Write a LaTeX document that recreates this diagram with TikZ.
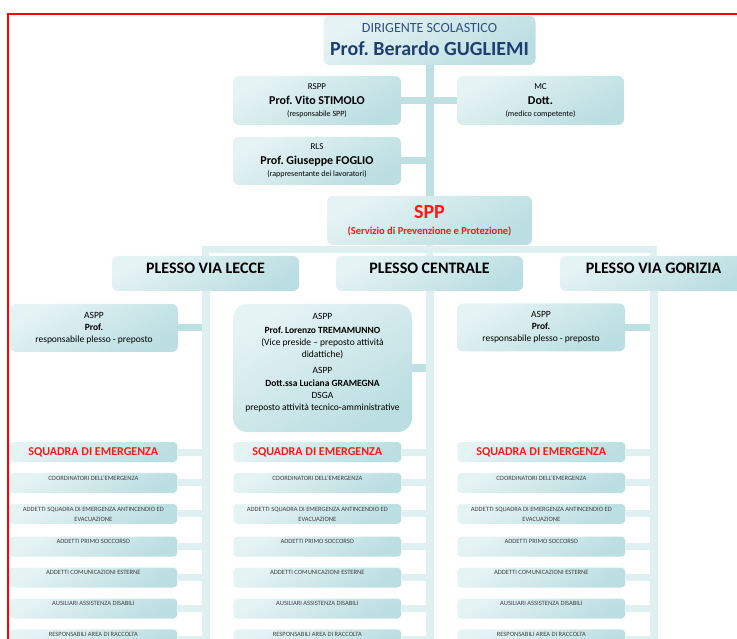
\documentclass[tikz,border=0pt]{standalone}
\usepackage{fontspec}
\setmainfont{Carlito}
\frenchspacing
\usetikzlibrary{positioning}

\definecolor{boxlight}{RGB}{230,243,244}
\definecolor{boxdark}{RGB}{186,222,225}
\definecolor{linkdark}{RGB}{189,224,227}
\definecolor{linklight}{RGB}{223,240,241}
\definecolor{dirblue}{RGB}{31,62,112}
\definecolor{dirblue2}{RGB}{46,80,135}
\definecolor{sppred}{RGB}{255,24,24}
\definecolor{itemgray}{RGB}{64,64,64}

\begin{document}
\begin{tikzpicture}[
        x = 1pt, y = -1pt,
        box/.style = {
            top color = boxlight,
            bottom color = boxdark,
            shading angle = 30,
            rounded corners = 6pt,
            inner sep = 0pt,
            align = center
        },
        role/.style = {
            box,
            minimum width = #1,
            minimum height = 49pt,
            font = \fontsize{9}{13}\selectfont
        },
        role/.default = 168pt,
        plesso/.style = {
            box,
            minimum width = 187pt,
            minimum height = 35pt,
            label = {[anchor=north, yshift=-7pt, inner sep=0pt, font=\bfseries\fontsize{16}{18}\selectfont]north:#1}
        },
        aspp/.style = {
            box,
            minimum width = 168pt,
            minimum height = 48pt,
            font = \fontsize{9.5}{12}\selectfont
        },
        squadra/.style = {
            box,
            rounded corners = 4pt,
            minimum width = 168pt,
            minimum height = 20pt,
            text = sppred,
            font = \bfseries\fontsize{12}{14}\selectfont
        },
        item/.style = {
            box,
            rounded corners = 4pt,
            minimum width = 168pt,
            minimum height = 20pt,
            label = {[itemtext]north:#1}
        },
        itemtext/.style = {
            anchor = north,
            yshift = -3pt,
            inner sep = 0pt,
            align = center,
            text = itemgray,
            font = \fontsize{6.5}{10}\selectfont
        },
        trunk/.style = {line width = 8pt, linkdark},
        branch/.style = {line width = 7pt, linklight}
        ]
        \useasboundingbox (0,0) rectangle (737,639);
%
        \node[role=212pt, text=dirblue2, font=\fontsize{14}{23}\selectfont, text depth=3pt] (dir) at (429.5,40.5)
            {DIRIGENTE SCOLASTICO\\{\bfseries\fontsize{20}{23}\selectfont\color{dirblue}Prof. Berardo GUGLIEMI}};
%
        \node[role] (rspp) at (317,100.5)
            {RSPP\\[2pt]{\bfseries\fontsize{12}{13}\selectfont Prof. Vito STIMOLO}\\[-1pt]{\fontsize{8}{13}\selectfont (responsabile SPP)}};
        \node[role=167pt] (mc) at (540.5,100.5)
            {MC\\[2pt]{\bfseries\fontsize{12}{13}\selectfont Dott.}\\[-1pt]{\fontsize{8}{13}\selectfont (medico competente)}};
        \node[role, minimum height=48pt] (rls) at (317,161)
            {RLS\\[2pt]{\bfseries\fontsize{12}{13}\selectfont Prof. Giuseppe FOGLIO}\\[-1pt]{\fontsize{8}{13}\selectfont (rappresentante dei lavoratori)}};
%
        \node[role=205pt, text=sppred, font=\bfseries\fontsize{10.5}{16}\selectfont] (spp) at (429.5,220.5)
            {{\fontsize{20}{16}\selectfont SPP}\\(Servizio di Prevenzione e Protezione)};
%
        \node[plesso=PLESSO VIA LECCE] (lecce) at (205.5,273.5) {};
        \node[plesso=PLESSO CENTRALE] (centrale) at (429.5,273.5) {};
        \node[plesso=PLESSO VIA GORIZIA] (gorizia) at (653.5,273.5) {};
%
        \node[aspp] (asppL) at (94,328)
            {ASPP\\{\bfseries Prof.}\\responsabile plesso - preposto};
        \node[aspp, rounded corners=14pt, minimum width=179pt, minimum height=128pt, text depth=13pt] (asppC) at (322.5,368)
            {ASPP\\[2pt]{\bfseries Prof. Lorenzo TREMAMUNNO}\\(Vice preside – preposto attività\\didattiche)\\[4pt]
             ASPP\\[1pt]{\bfseries Dott.ssa Luciana GRAMEGNA}\\DSGA\\preposto attività tecnico-amministrative};
        \node[aspp] (asppG) at (541,327.5)
            {ASPP\\{\bfseries Prof.}\\responsabile plesso - preposto};
%
% 
        \draw[trunk] (dir.south) -- (spp.north);
        \draw[trunk, line width=7pt] (rspp.east) -- (mc.west);
        \draw[trunk, line width=7pt] (rls.east) -- (rls.east -| dir.south);
%
        \draw[branch] (lecce.north) -- ++(0,-6) -| (gorizia.north);
        \draw[branch] (spp.south) -- (centrale.north);
%
        \draw[trunk, line width=7pt] (asppL.east) -- (asppL.east -| lecce.south);
        \draw[trunk, line width=7pt] (asppC.east) -- (asppC.east -| centrale.south);
        \draw[trunk, line width=7pt] (asppG.east) -- (asppG.east -| gorizia.south);
%
        \foreach \pl/\col in {lecce/L, centrale/C, gorizia/G} {
            \draw[branch, line width=8pt] (\pl.south) -- (\pl.south |- 0,660);
            \coordinate (\col0) at (\pl.south |- 0,452);
            \node[squadra, left=28pt of \col0] (\col sq) {SQUADRA DI EMERGENZA};
            \node[item={COORDINATORI DELL’EMERGENZA}, below=10.5pt of \col sq] (\col1) {};
            \node[item={ADDETTI SQUADRA DI EMERGENZA ANTINCENDIO ED\\EVACUAZIONE}, below=10.5pt of \col1] (\col2) {};
            \node[item={ADDETTI PRIMO SOCCORSO}, below=12.5pt of \col2] (\col3) {};
            \node[item={ADDETTI COMUNICAZIONI ESTERNE}, below=10.5pt of \col3] (\col4) {};
            \node[item={AUSILIARI ASSISTENZA DISABILI}, below=10.5pt of \col4] (\col5) {};
            \node[item={RESPONSABILI AREA DI RACCOLTA}, below=10.5pt of \col5] (\col6) {};
            \foreach \n in {sq,1,2,3,4,5,6}
                \draw[branch] (\col\n.east) -- (\col\n.east -| \pl.south);
        }
%
        \draw[red, line width=1.5pt] (8,660) -- (8,14) -- (760,14);
%
    \end{tikzpicture}
\end{document}
